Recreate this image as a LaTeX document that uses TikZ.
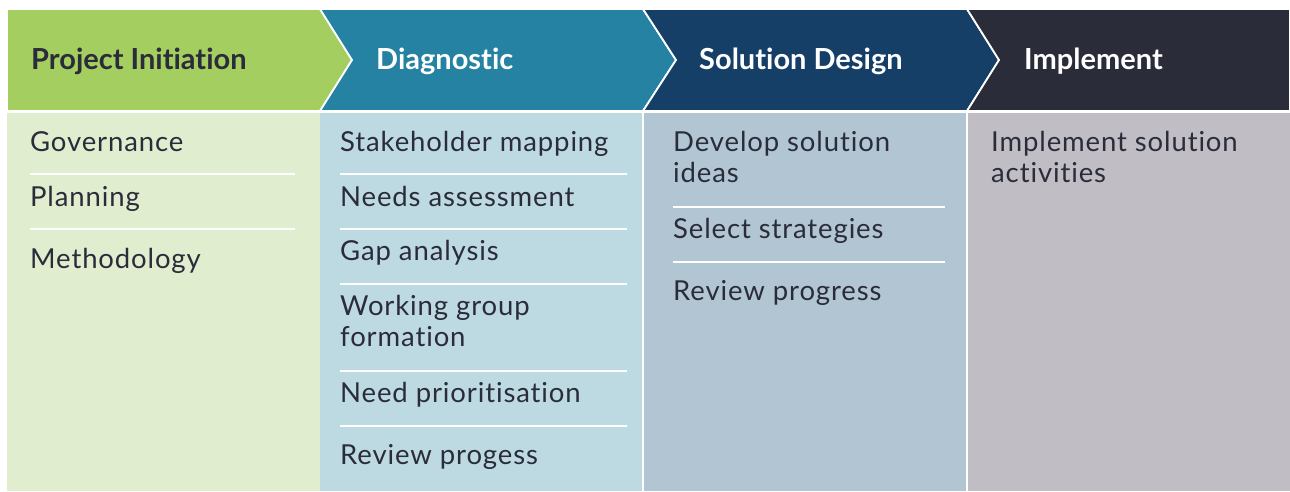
\documentclass[tikz,border=0pt]{standalone}
\usepackage{fontspec}
\setmainfont{Lato}[Ligatures=NoCommon]
\newfontfamily\taskfont{Lato}[Ligatures=NoCommon, LetterSpace=3.2]

\definecolor{initHead}{HTML}{A4CE5F}
\definecolor{initBody}{HTML}{E1EDCF}
\definecolor{diagHead}{HTML}{2582A2}
\definecolor{diagBody}{HTML}{BDDAE2}
\definecolor{solHead}{HTML}{163F67}
\definecolor{solBody}{HTML}{B2C5D3}
\definecolor{implHead}{HTML}{2B2C3A}
\definecolor{implBody}{HTML}{C0BEC4}
\definecolor{ink}{HTML}{2B2C3A}

\tikzset{
  phasehead/.style={anchor=base west, inner sep=0pt, font=\fontsize{29}{33}\selectfont\bfseries},
  task/.style={anchor=base west, inner sep=0pt, align=left, text=ink, font=\taskfont\fontsize{27.5}{31}\selectfont},
  divider/.style={white, line width=1.6pt},
  chevron/.style={draw=white, line width=1.8pt}
}

\begin{document}
\begin{tikzpicture}[x=1pt,y=-1pt]
    \useasboundingbox (0,0) rectangle (1290,492);

    % Column bodies
    \fill[initBody] (7,111) rectangle (320,491);
    \fill[diagBody] (320,111) rectangle (643,491);
    \fill[solBody]  (643,111) rectangle (967,491);
    \fill[implBody] (967,111) rectangle (1290,491);
    \draw[divider] (643,111) -- (643,492);
    \draw[divider] (967,111) -- (967,492);
    \draw[divider] (7,112) -- (1290,112);

    % Header chevrons
    \filldraw[chevron, fill=initHead] (7,9) -- (320,9) -- (352,60) -- (320,111) -- (7,111) -- cycle;
    \filldraw[chevron, fill=diagHead] (320,9) -- (643,9) -- (676,60) -- (643,111) -- (320,111) -- (352,60) -- cycle;
    \filldraw[chevron, fill=solHead]  (643,9) -- (967,9) -- (999,60) -- (967,111) -- (643,111) -- (676,60) -- cycle;
    \filldraw[chevron, fill=implHead] (967,9) -- (1290,9) -- (1290,111) -- (967,111) -- (999,60) -- cycle;

    % Phase titles
    \node[phasehead, text=ink]   (init) at (31,70)   {Project Initiation};
    \node[phasehead, text=white] (diag) at (376,70)  {Diagnostic};
    \node[phasehead, text=white] (sol)  at (699,70)  {Solution Design};
    \node[phasehead, text=white] (impl) at (1024,70) {Implement};

    % Project Initiation tasks
    \node[task] (gov)  at (30,152) {Governance};
    \draw[divider] (30,174) -- (295,174);
    \node[task] (plan) at (30,206) {Planning};
    \draw[divider] (30,229) -- (295,229);
    \node[task] (meth) at (30,268) {Methodology};

    % Diagnostic tasks (two-line entries sit on their last baseline)
    \node[task] (stake) at (340,152) {Stakeholder mapping};
    \draw[divider] (340,174) -- (627,174);
    \node[task] (needs) at (340,206) {Needs assessment};
    \draw[divider] (340,229) -- (627,229);
    \node[task] (gap)   at (340,260) {Gap analysis};
    \draw[divider] (340,284) -- (627,284);
    \node[task] (work)  at (340,346) {Working group\\formation};
    \draw[divider] (340,371) -- (627,371);
    \node[task] (prio)  at (340,402) {Need prioritisation};
    \draw[divider] (340,426) -- (627,426);
    \node[task] (revd)  at (340,464) {Review progess};

    % Solution Design tasks
    \node[task] (dev)  at (673,182) {Develop solution\\ideas};
    \draw[divider] (673,207) -- (945,207);
    \node[task] (sel)  at (673,238) {Select strategies};
    \draw[divider] (673,262) -- (945,262);
    \node[task] (revs) at (673,300) {Review progress};

    % Implement tasks
    \node[task] (act) at (991,182) {Implement solution\\activities};
\end{tikzpicture}
\end{document}
